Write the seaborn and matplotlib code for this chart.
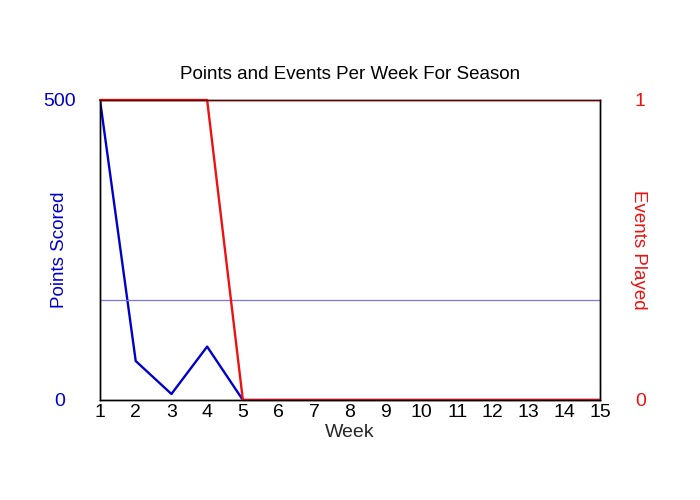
import seaborn as sns
import matplotlib
matplotlib.use('Agg')
import matplotlib.pyplot as plt
import pandas as pd

weeks = list(range(1, 16))
points = [500, 65, 10, 89, 0, 0, 0, 0, 0, 0, 0, 0, 0, 0, 0]
events = [1, 1, 1, 1, 0, 0, 0, 0, 0, 0, 0, 0, 0, 0, 0]

df = pd.DataFrame({'week': weeks, 'points': points, 'events': events})
played = df[df['events'] > 0]
avg_points = played['points'].mean()

sns.set_style('white')
plt.rcParams['font.family'] = ['Liberation Sans', 'DejaVu Sans']
plt.rcParams['text.color'] = 'black'

blue = '#0000cc'
red = '#ee1111'

fig = plt.figure(figsize=(7, 5), dpi=100)
ax = fig.add_axes([100/700, 100/500, 500/700, 300/500])
ax2 = ax.twinx()

sns.lineplot(data=df, x='week', y='points', ax=ax, color=blue, lw=1.7)
ax.axhline(avg_points, color='#7777dd', lw=0.9)
sns.lineplot(data=df, x='week', y='events', ax=ax2, color=red, lw=1.7, clip_on=False)

ax.set_xlim(1, 15)
ax.set_ylim(0, 500)
ax2.set_ylim(0, 1)
ax.set_xticks(weeks)
ax.set_yticks([0, 500])
ax2.set_yticks([0, 1])
ax.tick_params(axis='x', length=0, pad=3, labelsize=14, labelcolor='black')
ax.tick_params(axis='y', length=0, pad=29, labelsize=14, labelcolor=blue)
ax2.tick_params(axis='y', length=0, pad=29, labelsize=14, labelcolor=red)
for t in ax.get_yticklabels() + ax2.get_yticklabels():
    t.set_ha('center')

ax.set_xlabel('Week', fontsize=14, labelpad=2)
ax.set_ylabel('Points Scored', fontsize=13.5, color=blue)
ax2.set_ylabel('Events Played', fontsize=13.5, color=red, rotation=270)
ax.yaxis.set_label_coords(-0.08, 0.5)
ax2.yaxis.set_label_coords(1.078, 0.5)
for lab in (ax.yaxis.label, ax2.yaxis.label):
    lab.set_va('center')
    lab.set_ha('center')
ax.set_title('Points and Events Per Week For Season', fontsize=13.5, pad=15, color='black')

for a in (ax, ax2):
    for s in a.spines.values():
        s.set_color('black')
        s.set_linewidth(1)
ax2.spines['top'].set_color('#660000')

fig.savefig('out.png', dpi=100)
